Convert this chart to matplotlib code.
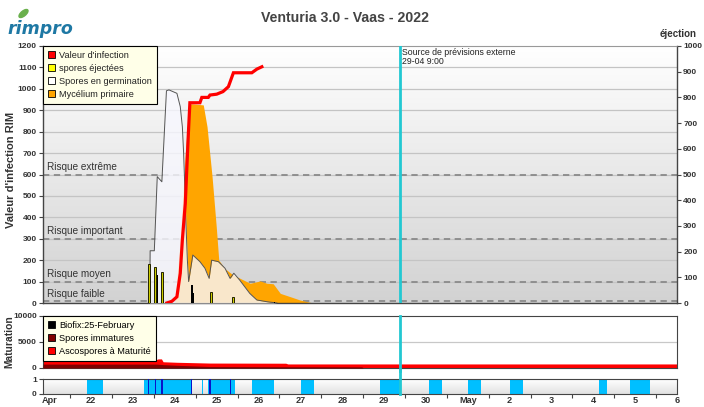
import numpy as np
import matplotlib
matplotlib.use('Agg')
import matplotlib.pyplot as plt
from matplotlib.patches import Patch, Ellipse
from matplotlib.colors import LinearSegmentedColormap

plt.rcParams['font.family'] = ['Liberation Sans', 'DejaVu Sans']

# ---------------- data (x in days: April 22 = 22, May 1 = 31) ----------------
germ_days = [23.40, 23.41, 23.51, 23.58, 23.69, 23.80, 23.86, 24.05, 24.13, 24.18, 24.21, 24.23,
             24.26, 24.30, 24.33, 24.43, 24.60, 24.72, 24.82, 24.88, 25.04, 25.20, 25.32, 25.41,
             25.55, 25.79, 25.96, 26.20, 26.44]
germ_vals = [0, 244, 244, 590, 566, 991, 995, 979, 917, 823, 700, 590,
             400, 200, 100, 224, 193, 162, 115, 200, 193, 162, 115, 139,
             107, 45, 14, 6, 0]

myc_days = [24.00, 24.13, 24.25, 24.34, 24.40, 24.68, 24.77, 24.89, 24.99, 25.05, 25.20, 25.39,
            25.56, 25.80, 26.04, 26.20, 26.35, 26.52, 26.75, 26.99, 27.30]
myc_vals = [0, 300, 700, 925, 930, 925, 823, 590, 356, 200, 160, 131,
            115, 92, 103, 92, 90, 45, 30, 14, 0]

inf_days = [23.81, 23.93, 24.05, 24.13, 24.18, 24.25, 24.32, 24.36, 24.60, 24.645, 24.80, 24.84,
            25.00, 25.15, 25.28, 25.40, 25.84, 25.96, 26.08]
inf_vals = [0, 8, 29, 139, 294, 465, 776, 935, 935, 960, 960, 971,
            975, 987, 1010, 1075, 1075, 1092, 1103]

eject_days = [23.39, 23.53, 23.69, 24.87, 25.40]
eject_vals = [182, 170, 146, 53, 27]
eject_dark_days = [23.58, 23.73, 24.41, 24.44, 26.38]
eject_dark_vals = [131, 76, 84, 45, 5]

risk_levels = [600, 300, 100, 8]
risk_labels = ['Risque extrême', 'Risque important', 'Risque moyen', 'Risque faible']

mat_days = [20.85, 23.55, 23.60, 23.68, 23.72, 24.05, 24.84, 26.65, 26.70, 28.47, 28.50, 36.0]
immature_vals = [750, 750, 720, 680, 650, 520, 280, 240, 240, 220, 0, 0]
total_vals = [1600, 1600, 1750, 1750, 1200, 1100, 950, 920, 780, 780, 780, 780]

wet_start = [21.91, 23.27, 24.64, 24.80, 25.85, 27.01, 28.90, 30.08, 31.01, 32.00, 34.13, 34.88]
wet_end = [22.29, 24.40, 24.68, 25.43, 26.38, 27.33, 29.37, 30.39, 31.31, 32.31, 34.33, 35.36]
rain_days = [23.37, 23.53, 23.70, 24.40, 24.84, 25.34]
rain_widths = [0.025, 0.025, 0.05, 0.03, 0.035, 0.025]

forecast_day = 29.375
tick_days = list(range(21, 37))
tick_labels = ['Apr', '22', '23', '24', '25', '26', '27', '28', '29', '30',
               'May', '2', '3', '4', '5', '6']

XMIN, XMAX = 20.85, 36.0
W, H = 704, 407

# ---------------- figure ----------------
fig = plt.figure(figsize=(W / 100, H / 100), dpi=100)


def rect(l, t, r, b):
    return [l / W, 1 - b / H, (r - l) / W, (b - t) / H]


ax = fig.add_axes(rect(43, 46, 677, 303))
axm = fig.add_axes(rect(43, 316, 677, 368))
axw = fig.add_axes(rect(43, 379, 677, 394))

TXT = '#333333'
SPINE = '#444444'

# gradient background main
cm_main = LinearSegmentedColormap.from_list('g', ['#d2d2d2', '#ffffff'])
grad = np.linspace(0, 1, 256).reshape(-1, 1)
ax.imshow(grad, extent=[XMIN, XMAX, 0, 1200], aspect='auto', cmap=cm_main,
          origin='lower', zorder=0)
# grid
for v in range(100, 1200, 100):
    ax.axhline(v, color='#c4c4c4', lw=0.9, zorder=1)
for v in risk_levels:
    ax.axhline(v, color='#8a8a8a', lw=1.3, ls=(0, (3.5, 2.5)), zorder=1.5)
for v, lab in zip(risk_levels, risk_labels):
    ax.text(20.95, v + 12, lab, fontsize=7.2, color=TXT, va='bottom', ha='left', zorder=6)

# series
ax.fill_between(myc_days, myc_vals, color='#ffa500', lw=0, zorder=2)
ax.fill_between(germ_days, germ_vals, color='#f8f8ff', alpha=0.8, lw=0, zorder=3)
ax.plot(germ_days, germ_vals, color='#555555', lw=0.7, zorder=3.5)
ax.bar(eject_dark_days, eject_dark_vals, width=0.035, color='black', zorder=4)
ax.bar(eject_days, eject_vals, width=0.05, color='#cccc00', edgecolor='#222200', lw=0.7, zorder=4)
ax.plot(inf_days, inf_vals, color='#ff0000', lw=2.3, zorder=5, solid_joinstyle='miter')

ax.set_xlim(XMIN, XMAX)
ax.set_ylim(0, 1200)
ax.set_yticks(range(0, 1201, 100))
ax.tick_params(axis='y', labelsize=6, length=3, width=0.8, color=SPINE, labelcolor=TXT, pad=1.5)
for t in ax.get_yticklabels():
    t.set_fontweight('bold')
ax.set_xticks([])
for s in ['left', 'bottom', 'right']:
    ax.spines[s].set_color(SPINE)
    ax.spines[s].set_linewidth(1)
ax.spines['top'].set_color('#999999')

axr = ax.twinx()
axr.set_ylim(0, 1000)
axr.set_yticks(range(0, 1001, 100))
axr.tick_params(axis='y', labelsize=6, length=3, width=0.8, color=SPINE, labelcolor=TXT, pad=1.5)
for t in axr.get_yticklabels():
    t.set_fontweight('bold')
for s in axr.spines.values():
    s.set_visible(False)

leg = ax.legend(handles=[Patch(facecolor='#ff0000', edgecolor='black', lw=0.6, label="Valeur d'infection"),
                         Patch(facecolor='#ffff00', edgecolor='black', lw=0.6, label='spores éjectées'),
                         Patch(facecolor='#ffffff', edgecolor='black', lw=0.6, label='Spores en germination'),
                         Patch(facecolor='#ffa500', edgecolor='black', lw=0.6, label='Mycélium primaire')],
                loc='upper left', bbox_to_anchor=(0.0, 1.0), borderaxespad=0, fontsize=6.6,
                frameon=True, fancybox=False, handlelength=0.75, handleheight=0.75,
                handletextpad=0.45, labelspacing=0.42, borderpad=0.55, framealpha=1)
leg.get_frame().set_facecolor('#ffffe8')
leg.get_frame().set_edgecolor('black')
leg.get_frame().set_linewidth(0.8)
leg.set_zorder(10)
for t in leg.get_texts():
    t.set_color('#222222')

ax.axvline(forecast_day, color='#22c8d2', lw=2, zorder=7)
ax.text(forecast_day + 0.06, 1190, 'Source de prévisions externe\n29-04 9:00', fontsize=6.3,
        color='#222222', va='top', ha='left', linespacing=1.05, zorder=7)

# ---------------- maturation ----------------
axm.set_facecolor('white')
axm.axhline(5000, color='#c8c8c8', lw=0.9, zorder=1)
axm.fill_between(mat_days, total_vals, color='#ff0000', lw=0, zorder=2)
axm.fill_between(mat_days, immature_vals, color='#800000', lw=0, zorder=3)
axm.axvline(forecast_day, ymin=-0.06, ymax=1, color='#22c8d2', lw=2, zorder=7, clip_on=False)
axm.set_xlim(XMIN, XMAX)
axm.set_ylim(0, 10000)
axm.set_yticks([0, 5000, 10000])
axm.set_xticks([])
axm.tick_params(axis='y', labelsize=6, length=3, width=0.8, color=SPINE, labelcolor=TXT, pad=1.5)
for t in axm.get_yticklabels():
    t.set_fontweight('bold')
for s in axm.spines.values():
    s.set_color(SPINE)
leg2 = axm.legend(handles=[Patch(facecolor='#000000', edgecolor='black', lw=0.6, label='Biofix:25-February'),
                           Patch(facecolor='#800000', edgecolor='black', lw=0.6, label='Spores immatures'),
                           Patch(facecolor='#ff0000', edgecolor='black', lw=0.6, label='Ascospores à Maturité')],
                  loc='upper left', bbox_to_anchor=(0.0, 1.0), borderaxespad=0, fontsize=6.6,
                  frameon=True, fancybox=False, handlelength=0.75, handleheight=0.75,
                  handletextpad=0.45, labelspacing=0.42, borderpad=0.55, framealpha=1)
leg2.get_frame().set_facecolor('#ffffe8')
leg2.get_frame().set_edgecolor('black')
leg2.get_frame().set_linewidth(0.8)
leg2.set_zorder(10)

# ---------------- wetness ----------------
cm_w = LinearSegmentedColormap.from_list('w', ['#e2e2e2', '#ffffff'])
axw.imshow(grad, extent=[XMIN, XMAX, 0, 1], aspect='auto', cmap=cm_w, origin='lower', zorder=0)
for s0, s1 in zip(wet_start, wet_end):
    axw.axvspan(s0, s1, color='#00bfff', lw=0, zorder=2)
for d, wd in zip(rain_days, rain_widths):
    axw.axvspan(d - wd / 2, d + wd / 2, color='#0a14c8', lw=0, zorder=3)
axw.axvline(forecast_day, ymin=0, ymax=1.6, color='#22c8d2', lw=2, zorder=7, clip_on=False)
axw.set_xlim(XMIN, XMAX)
axw.set_ylim(0, 1)
axw.set_yticks([0, 1])
axw.tick_params(axis='y', labelsize=6, length=3, width=0.8, color=SPINE, labelcolor=TXT, pad=1.5)
for t in axw.get_yticklabels():
    t.set_fontweight('bold')
axw.set_xticks([d + 0.5 for d in tick_days[:-1]])
axw.set_xticklabels([])
axw.tick_params(axis='x', which='major', length=3, color=SPINE)
axw.set_xticks(tick_days, minor=True)
axw.set_xticklabels(tick_labels, minor=True)
axw.tick_params(axis='x', which='minor', length=0, labelsize=6.6, labelcolor=TXT, pad=1.5)
for t in axw.get_xticklabels(minor=True):
    t.set_fontweight('bold')
for s in axw.spines.values():
    s.set_color(SPINE)

# ---------------- titles / labels ----------------
fig.text(345 / W, 1 - 18 / H, 'Venturia 3.0 - Vaas - 2022', fontsize=10.2, fontweight='bold',
         color='#444444', ha='center', va='center')
fig.text(697 / W, 1 - 34 / H, 'éjection', fontsize=7, fontweight='bold', color=TXT,
         ha='right', va='center')
fig.text(11 / W, 1 - 170 / H, "Valeur d'infection RIM", rotation=90, fontsize=8,
         fontweight='bold', color=TXT, ha='center', va='center')
fig.text(9 / W, 1 - 342 / H, 'Maturation', rotation=90, fontsize=7.4,
         fontweight='bold', color=TXT, ha='center', va='center')

# logo
fig.text(7 / W, 1 - 34 / H, 'rimpro', fontsize=12.5, fontweight='bold', style='italic',
         color='#1e78a4', ha='left', va='baseline', family=['DejaVu Sans'])
axl = fig.add_axes([0, 0, 1, 1], zorder=-1)
axl.set_xlim(0, W)
axl.set_ylim(H, 0)
axl.axis('off')
axl.add_patch(Ellipse((23.5, 13.5), 11, 5, angle=-40, color='#6ab04c'))

fig.savefig('out.png', dpi=100)
